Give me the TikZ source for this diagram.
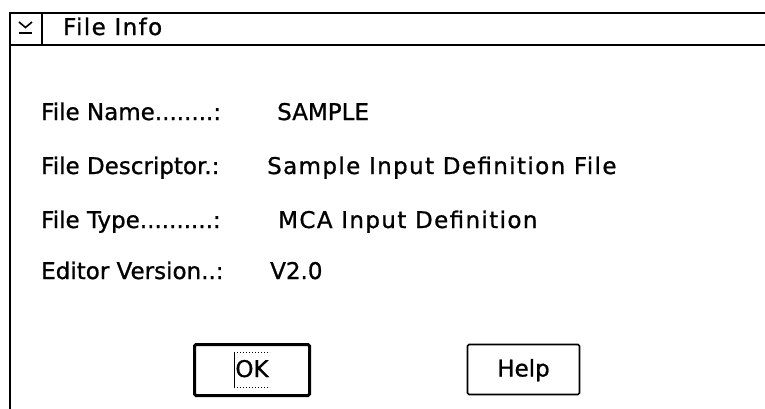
\documentclass[tikz,border=0pt]{standalone}
\usepackage{fontspec}
\setmainfont{DejaVu Sans}
\newfontfamily\dlgfont{DejaVu Sans}[FakeBold=0.9]
\newfontfamily\dlgwide{DejaVu Sans}[FakeBold=0.9,LetterSpace=6]
\usetikzlibrary{calc}
\tikzset{
  frameline/.style={line width=2pt},
  fieldtext/.style={anchor=base west, inner sep=0pt, font=\dlgfont\fontsize{23}{27}\selectfont},
  widetext/.style={fieldtext, font=\dlgwide\fontsize{23}{27}\selectfont},
  btn/.style={draw, rounded corners=1.5pt, inner sep=0pt, text height=16pt, text depth=2pt,
    font=\dlgfont\fontsize{23}{27}\selectfont},
}

\begin{document}
\begin{tikzpicture}[x=1pt,y=-1pt]
  % 画布
  \fill[white] (0,0) rectangle (765,408);
  \useasboundingbox (0,0) rectangle (765,408);

  % 坐标点定义
  \coordinate (TL) at (10,13);
  \coordinate (TR) at (766,13);
  \coordinate (BL) at (10,409);
  \coordinate (HL) at (10,45);
  \coordinate (HR) at (766,45);
  \coordinate (S1) at (42,13);
  \coordinate (S2) at (42,45);

  % 窗口边框
  \draw[frameline] (BL) -- (TL) -- (TR);
  \draw[frameline] (HL) -- (HR);
  \draw[frameline] (S1) -- (S2);

  % 系统菜单图标
  \draw[line width=1.6pt] (19,22) -- (25.5,27.5) -- (32,22);
  \draw[line width=1.6pt] (19,33) -- (32,33);

  % 标题
  \node[widetext] (title) at (63,35) {File Info};

  % 字段名
  \node[fieldtext] (nameL) at (41,120) {File Name........:};
  \node[fieldtext] (descL) at (41,174) {File Descriptor.:};
  \node[fieldtext] (typeL) at (41,228) {File Type..........:};
  \node[fieldtext] (verL) at (41,279) {Editor Version..:};

  % 字段值
  \node[fieldtext] (nameV) at (277,120) {SAMPLE};
  \node[widetext] (descV) at (267,174) {Sample Input Definition File};
  \node[widetext] (typeV) at (278,228) {MCA Input Definition};
  \node[fieldtext] (verV) at (270,279) {V2.0};

  % 按钮
  \node[btn, line width=3pt, minimum width=115pt, minimum height=51pt] (ok) at (252,370) {OK};
  \node[btn, line width=1.6pt, minimum width=112pt, minimum height=50pt] (help) at (523.5,369.5) {Help};

  % 焦点框
  \draw[line width=1pt, dotted] ($(ok.center)+(-18,-18)$) -- ($(ok.center)+(18,-18)$);
  \draw[line width=1pt, dotted] ($(ok.center)+(-18,17)$) -- ($(ok.center)+(18,17)$);
  \draw[line width=1pt] ($(ok.center)+(-18,-18)$) -- ($(ok.center)+(-18,17)$);
\end{tikzpicture}
\end{document}
